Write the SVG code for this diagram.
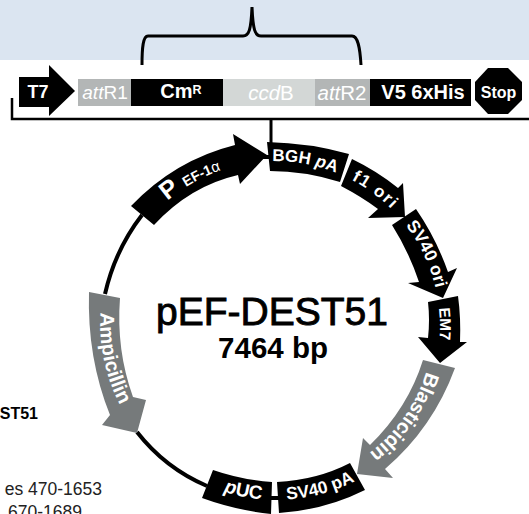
<svg xmlns="http://www.w3.org/2000/svg" width="529" height="514" viewBox="0 0 529 514">
<style>
text{font-family:"Liberation Sans",Arial,sans-serif}
.w{fill:#fff;font-weight:bold;font-size:17px}
.b{fill:#000}.g{fill:#767a7b}
.ln{fill:none;stroke:#000;stroke-width:4}
.bar{text-anchor:middle;fill:#fff;font-weight:bold}
.pale{text-anchor:middle;fill:#fff}
</style>
<defs>
<path id="cw" d="M110 326A165 165 0 1 1 303.7 488.5"/>
<path id="cw2" d="M117 326A158 158 0 1 1 302.4 481.6"/>
<path id="ccw" d="M122.6 238A176 176 0 0 0 427.4 414"/>
</defs>
<rect width="529" height="60" fill="#dbe5f1"/>
<g id="connectors">
<path class="ln" style="stroke-width:3" d="M142 65C142 48 143 36 148 36H243C249 36 251 30 252 7C253 30 255 36 261 36H352C358 36 360 48 361 65"/>
<path class="ln" style="stroke-width:2.5" d="M12 98V119H529"/>
<path class="ln" style="stroke-width:3" d="M271 119V144"/>
<path class="ln" d="M142 215Q115 250 105 294"/>
<path class="ln" d="M137 432Q165 468 207 486"/>
<path class="ln" d="M258 157H270"/>
<path class="ln" d="M270 498H279"/>
</g>
<g id="T7"><path class="b" d="M19 77H49V65L75 91L49 116V107H19Z"/><text class="bar" x="38" y="98" font-size="18">T7</text></g>
<g id="attR1"><rect x="78" y="79" width="53" height="27" fill="#b3b6b6"/><text class="pale" x="105" y="99" font-size="19"><tspan font-style="italic">att</tspan>R1</text></g>
<g id="CmR"><rect x="131" y="79" width="92" height="27" fill="#000"/><text class="bar" x="181" y="98" font-size="20">Cm<tspan font-size="12.500" dy="-4">R</tspan></text></g>
<g id="ccdB"><rect x="223" y="79" width="92" height="27" fill="#d3d7d6"/><text class="pale" x="271" y="100" font-size="20.500"><tspan font-style="italic">ccd</tspan>B</text></g>
<g id="attR2"><rect x="315" y="79" width="55" height="27" fill="#b3b6b6"/><text class="pale" x="342" y="100" font-size="20.500"><tspan font-style="italic">att</tspan>R2</text></g>
<g id="V5"><rect x="370" y="79" width="101" height="27" fill="#000"/><text class="bar" x="423" y="99" font-size="20">V5 6xHis</text></g>
<g id="Stop"><polygon class="b" points="488,68 508,68 522,82 522,100 508,114 488,114 475,100 475,82"/><text class="bar" x="498.500" y="98" font-size="16">Stop</text></g>

<g id="BGHpA"><path class="b" d="M267 142Q310 143 349 154L340 182Q305 171 270 171Z"/><text class="w"><textPath href="#cw" startOffset="289" text-anchor="middle">BGH <tspan font-style="italic">p</tspan>A</textPath></text></g>
<g id="f1ori"><path class="b" d="M352 159Q377 171 398 188L403 183L405 217L368 218L378 209Q362 197 341 186Z"/><text class="w"><textPath href="#cw" startOffset="364" text-anchor="middle" letter-spacing="1.500">f1 ori</textPath></text></g>
<g id="SV40ori"><path class="b" d="M416 209Q436 238 448 272L457 268L443 298L408 283L419 282Q409 252 392 225Z"/><text class="w" style="font-size:17.500px"><textPath href="#cw" startOffset="445" text-anchor="middle">SV40 ori</textPath></text></g>
<g id="EM7"><path class="b" d="M458 296Q461 318 460 342L467 342L440 363L418 337L428 338Q430 320 428 302Z"/><text class="w" style="font-size:15.500px"><textPath href="#cw" startOffset="516" text-anchor="middle">EM7</textPath></text></g>
<g id="Blasticidin"><path class="g" d="M455 368Q433 428 385 469L393 478L357 474L363 438L370 445Q408 408 423 360Z"/><text class="w" style="font-size:20px"><textPath href="#cw2" startOffset="593" text-anchor="middle">Blasticidin</textPath></text></g>
<g id="SV40pA"><path class="b" d="M350 463L365 490Q325 510 279 513L277 482Q317 480 350 463Z"/><text class="w" style="font-size:17.500px"><textPath href="#ccw" startOffset="412" text-anchor="middle">SV40 pA</textPath></text></g>
<g id="pUC"><path class="b" d="M272 482L271 514Q235 510 202 498L213 470Q242 480 272 482Z"/><text class="w" style="font-size:19px"><textPath href="#ccw" startOffset="332" text-anchor="middle"><tspan font-style="italic">p</tspan>UC</textPath></text></g>
<g id="Ampicillin"><path class="g" d="M89 292Q87 358 110 415L102 425L137 433L146 400L133 397Q116 350 120 298Z"/><text class="w" style="font-size:20px"><textPath href="#ccw" startOffset="126" text-anchor="middle">Ampicillin</textPath></text></g>
<g id="PEF1a"><path class="b" d="M131 206Q175 160 235 145L233 134L267 155L240 184L238 175Q190 186 154 225Z"/><text class="w" style="font-size:25px"><textPath href="#cw" startOffset="173" text-anchor="middle">P <tspan font-size="14">EF-1</tspan><tspan font-size="15" font-weight="normal">α</tspan></textPath></text></g>

<g id="title"><text x="272" y="325" font-size="39" text-anchor="middle" stroke="#000" stroke-width=".9">pEF-DEST51</text><text x="273" y="358" font-size="29.500" font-weight="bold" text-anchor="middle">7464 bp</text></g>
<g id="sidetext" font-size="17.500"><text x="38" y="419" text-anchor="end" font-size="16" font-weight="bold">ST51</text><text x="102" y="495" text-anchor="end" fill="#222">es 470-1653</text><text x="82" y="518" text-anchor="end" fill="#222">670-1689</text></g>
</svg>
